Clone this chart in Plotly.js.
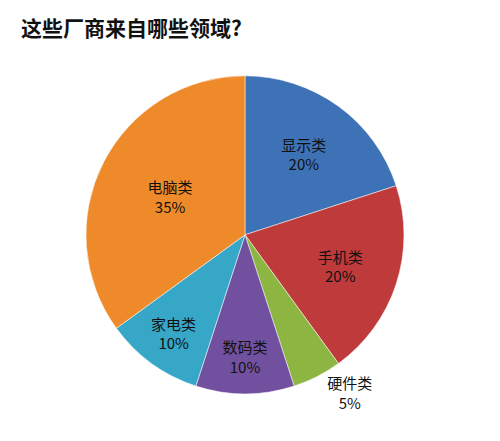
<!DOCTYPE html>
<html>
<head>
<meta charset="utf-8">
<script src="https://cdn.plot.ly/plotly-3.0.1.min.js"></script>
<style>
  html, body { margin: 0; padding: 0; background: #fff; }
  #chart { width: 500px; height: 441px; }
</style>
</head>
<body>
<div id="chart"></div>
<script>
// 领域分布
const categories = ['显示类', '手机类', '硬件类', '数码类', '家电类', '电脑类'];
const shares = [20, 20, 5, 10, 10, 35];
const sliceColors = ['#3e72b7', '#bf3a3a', '#8db541', '#7150a0', '#36a7c7', '#ef8a2b'];
const textPlaces = ['inside', 'inside', 'outside', 'inside', 'inside', 'inside'];

const data = [{
    type: 'pie',
    labels: categories,
    values: shares,
    sort: false,
    direction: 'clockwise',
    rotation: 0,
    texttemplate: '%{label}<br>%{value}%',
    textposition: textPlaces,
    insidetextorientation: 'horizontal',
    textfont: { family: '"Noto Sans CJK SC", sans-serif', size: 15, color: '#111' },
    marker: {
        colors: sliceColors,
        line: { color: 'rgba(255,255,255,0.5)', width: 1 }
    },
    domain: { x: [0.172, 0.808], y: [0.107, 0.828] },
    hoverinfo: 'label+percent'
}];

const layout = {
    width: 500,
    height: 441,
    margin: { l: 0, r: 0, t: 0, b: 0 },
    paper_bgcolor: '#fff',
    showlegend: false,
    title: {
        text: '<b>这些厂商来自哪些领域?</b>',
        x: 0.042,
        xanchor: 'left',
        y: 0.936,
        yanchor: 'middle',
        font: { family: '"Noto Sans CJK SC", sans-serif', size: 21, color: '#111' }
    }
};

Plotly.newPlot('chart', data, layout, { displayModeBar: false });
</script>
</body>
</html>
